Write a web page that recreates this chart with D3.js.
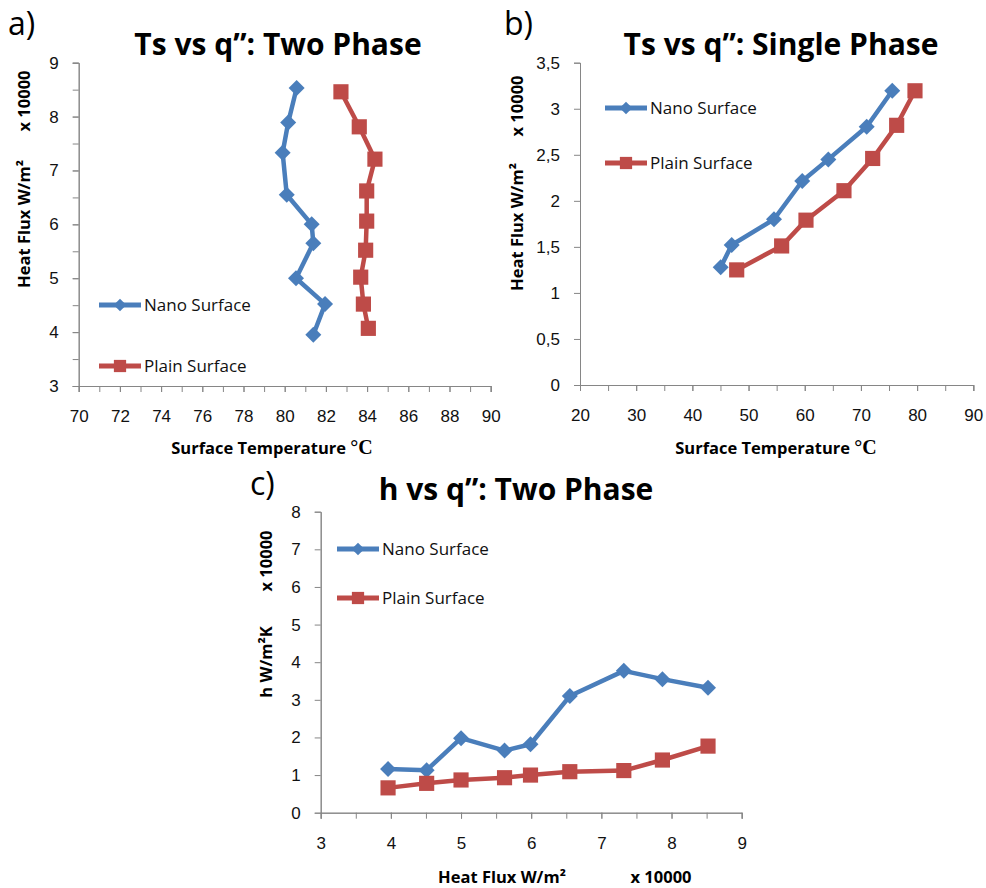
<!DOCTYPE html>
<html>
<head>
<meta charset="utf-8">
<script src="https://cdn.jsdelivr.net/npm/d3@7"></script>
<style>
  body { margin: 0; background: #fff; }
  svg { font-family: "Open Sans", sans-serif; }
</style>
</head>
<body>
<div id="chart"></div>
<script>
// a) Ts vs q": two phase  (flux in x 10000 W/m2, temperature in C)
const twoPhaseNanoFlux = [3.95, 4.52, 5.0, 5.65, 6.0, 6.55, 7.33, 7.89, 8.53];
const twoPhaseNanoTemp = [81.39, 81.96, 80.55, 81.39, 81.31, 80.10, 79.90, 80.17, 80.58];
const twoPhasePlainFlux = [4.07, 4.52, 5.02, 5.52, 6.06, 6.62, 7.21, 7.81, 8.46];
const twoPhasePlainTemp = [84.06, 83.82, 83.69, 83.93, 83.98, 83.98, 84.38, 83.62, 82.73];

// b) Ts vs q": single phase
const singleNanoTemp = [45.04, 47.0, 54.53, 59.56, 64.19, 71.02, 75.58];
const singleNanoFlux = [1.28, 1.52, 1.80, 2.215, 2.45, 2.805, 3.195];
const singlePlainTemp = [47.89, 55.89, 60.22, 66.98, 72.09, 76.36, 79.62];
const singlePlainFlux = [1.25, 1.51, 1.79, 2.11, 2.46, 2.82, 3.195];

// c) h vs q": two phase
const hFlux = [3.96, 4.51, 5.0, 5.62, 5.99, 6.55, 7.32, 7.87, 8.52];
const hNano = [1.16, 1.13, 1.98, 1.65, 1.82, 3.10, 3.77, 3.55, 3.32];
const hPlain = [0.66, 0.78, 0.87, 0.93, 1.0, 1.09, 1.12, 1.40, 1.77];

const seriesNames = ["Nano Surface", "Plain Surface"];
const blue = "#4a7ebb", red = "#be4b48";
const axisColor = "#868686";

const svg = d3.select("#chart")
    .append("svg")
    .attr("width", 986)
    .attr("height", 888);

function zip(xs, ys) {
    return xs.map((x, i) => ({ x: x, y: ys[i] }));
}

function drawPanel(p) {
    const x = d3.scaleLinear().domain(p.xDomain).range(p.xRange);
    const y = d3.scaleLinear().domain(p.yDomain).range(p.yRange);
    const g = svg.append("g");

    // minor ticks
    g.append("g")
        .attr("transform", `translate(0,${p.yRange[0]})`)
        .call(d3.axisBottom(x).tickValues(p.xMinor).tickSize(6).tickFormat(""))
        .call(a => a.selectAll("line,path").attr("stroke", axisColor));
    g.append("g")
        .attr("transform", `translate(${p.xRange[0]},0)`)
        .call(d3.axisLeft(y).tickValues(p.yMinor).tickSize(6).tickFormat(""))
        .call(a => a.selectAll("line,path").attr("stroke", axisColor));

    // labelled ticks
    const xAxis = g.append("g")
        .attr("transform", `translate(0,${p.yRange[0]})`)
        .call(d3.axisBottom(x).tickValues(p.xTicks).tickSize(6).tickPadding(18)
            .tickSizeOuter(0).tickFormat(p.fmt || d3.format("d")));
    const yAxis = g.append("g")
        .attr("transform", `translate(${p.xRange[0]},0)`)
        .call(d3.axisLeft(y).tickValues(p.yTicks).tickSize(6).tickPadding(14)
            .tickSizeOuter(0).tickFormat(p.yFmt || d3.format("d")));
    [xAxis, yAxis].forEach(a => {
        a.selectAll("line,path").attr("stroke", axisColor);
        a.selectAll("text").attr("fill", "#111").style("font-size", "17px");
    });

    const line = d3.line().x(d => x(d.x)).y(d => y(d.y));
    p.series.forEach(s => {
        g.append("path")
            .datum(s.data)
            .attr("fill", "none")
            .attr("stroke", s.color)
            .attr("stroke-width", 4.5)
            .attr("stroke-linejoin", "round")
            .attr("d", line);
        g.selectAll(null)
            .data(s.data)
            .enter().append("path")
            .attr("transform", d => `translate(${x(d.x)},${y(d.y)})` + (s.diamond ? " rotate(45)" : ""))
            .attr("d", d3.symbol(d3.symbolSquare, s.diamond ? 128 : 230)())
            .attr("fill", s.color);
    });

    // legend
    p.series.forEach((s, i) => {
        const ly = p.legend[1] + i * p.legendGap;
        const lg = g.append("g").attr("transform", `translate(${p.legend[0]},${ly})`);
        lg.append("line").attr("x1", 0).attr("x2", 42)
            .attr("stroke", s.color).attr("stroke-width", 5);
        lg.append("path")
            .attr("transform", `translate(21,0)` + (s.diamond ? " rotate(45)" : ""))
            .attr("d", d3.symbol(d3.symbolSquare, s.diamond ? 80 : 150)())
            .attr("fill", s.color);
        lg.append("text").attr("x", 45).attr("dy", "0.35em")
            .style("font-size", "17px").attr("fill", "#111")
            .text(s.name);
    });

    // titles
    svg.append("text").attr("x", p.label[0]).attr("y", p.label[1])
        .style("font-size", "32px").text(p.labelText);
    svg.append("text").attr("x", p.title[0]).attr("y", p.title[1])
        .attr("text-anchor", "middle")
        .style("font-size", "30px").style("font-weight", "bold")
        .text(p.titleText);
    p.xTitles.forEach(t => {
        const tx = svg.append("text").attr("x", t[0]).attr("y", t[1])
            .attr("text-anchor", "middle")
            .style("font-size", "16.5px").style("font-weight", "bold");
        tx.append("tspan").text(t[2]);
        if (t[3]) tx.append("tspan").style("font-family", "'Liberation Serif', serif")
            .style("font-size", "20px").text(t[3]);
    });
    p.yTitles.forEach(t => {
        svg.append("text")
            .attr("transform", `translate(${t[0]},${t[1]}) rotate(-90)`)
            .attr("text-anchor", "middle")
            .style("font-size", "16.5px").style("font-weight", "bold")
            .text(t[2]);
    });
}

drawPanel({
    xDomain: [70, 90], xRange: [78.7, 490.7],
    yDomain: [3, 9], yRange: [386, 62.7],
    xTicks: d3.range(70, 91, 2), xMinor: d3.range(70, 91, 1),
    yTicks: d3.range(3, 10, 1), yMinor: d3.range(3, 9.01, 0.5),
    series: [
        { name: seriesNames[0], color: blue, diamond: true, data: zip(twoPhaseNanoTemp, twoPhaseNanoFlux) },
        { name: seriesNames[1], color: red, diamond: false, data: zip(twoPhasePlainTemp, twoPhasePlainFlux) }
    ],
    legend: [99, 305], legendGap: 61,
    label: [8, 35], labelText: "a)",
    title: [278, 55], titleText: "Ts vs q”: Two Phase",
    xTitles: [[272, 454, "Surface Temperature ", "°C"]],
    yTitles: [[30, 224, "Heat Flux W/m²"], [30, 101, "x 10000"]]
});

drawPanel({
    xDomain: [20, 90], xRange: [580, 973.3],
    yDomain: [0, 3.5], yRange: [385, 62.7],
    xTicks: d3.range(20, 91, 10), xMinor: d3.range(20, 91, 5),
    yTicks: d3.range(0, 3.51, 0.5), yMinor: [],
    yFmt: d => d3.format("~g")(d).replace(".", ","),
    series: [
        { name: seriesNames[0], color: blue, diamond: true, data: zip(singleNanoTemp, singleNanoFlux) },
        { name: seriesNames[1], color: red, diamond: false, data: zip(singlePlainTemp, singlePlainFlux) }
    ],
    legend: [605, 108], legendGap: 55,
    label: [504, 35], labelText: "b)",
    title: [781, 55], titleText: "Ts vs q”: Single Phase",
    xTitles: [[776, 454, "Surface Temperature ", "°C"]],
    yTitles: [[523, 227, "Heat Flux W/m²"], [523, 106, "x 10000"]]
});

drawPanel({
    xDomain: [3, 9], xRange: [320.7, 741.7],
    yDomain: [0, 8], yRange: [812.7, 511.7],
    xTicks: d3.range(3, 10, 1), xMinor: d3.range(3, 9.01, 0.5),
    yTicks: d3.range(0, 9, 1), yMinor: [],
    series: [
        { name: seriesNames[0], color: blue, diamond: true, data: zip(hFlux, hNano) },
        { name: seriesNames[1], color: red, diamond: false, data: zip(hFlux, hPlain) }
    ],
    legend: [337, 549], legendGap: 49,
    label: [250, 495], labelText: "c)",
    title: [516, 500], titleText: "h vs q”: Two Phase",
    xTitles: [[502, 883, "Heat Flux W/m²"], [661, 883, "x 10000"]],
    yTitles: [[272, 662, "h W/m²K"], [272, 561, "x 10000"]]
});
</script>
</body>
</html>
